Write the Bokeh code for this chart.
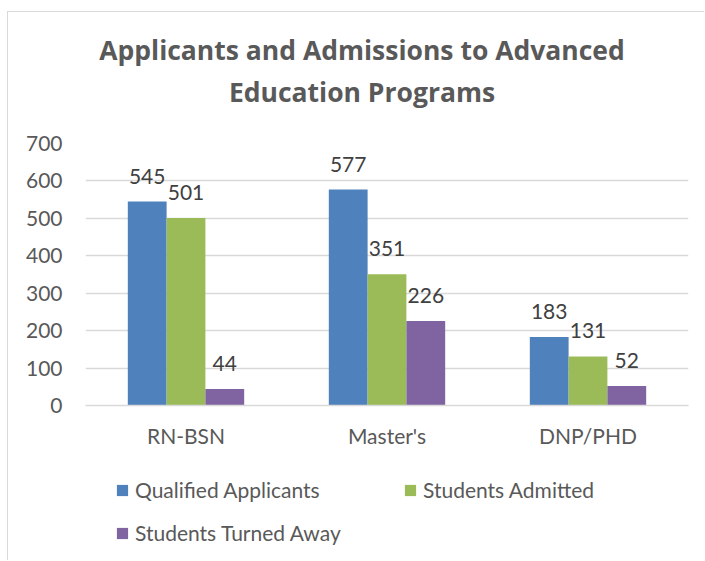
from bokeh.plotting import figure
from bokeh.layouts import column
from bokeh.models import (ColumnDataSource, FactorRange, Range1d, FixedTicker, Label,
                          LabelSet, Legend, LegendItem)
from bokeh.core.properties import value
from bokeh.transform import dodge
from bokeh.embed import file_html
from bokeh.resources import INLINE

# ---- data ----
categories = ["RN-BSN", "Master's", "DNP/PHD"]
series_names = ["Qualified Applicants", "Students Admitted", "Students Turned Away"]
qualified_applicants = [545, 577, 183]
students_admitted = [501, 351, 131]
students_turned_away = [44, 226, 52]
y_ticks = [0, 100, 200, 300, 400, 500, 600, 700]
title_lines = ["Applicants and Admissions to Advanced", "Education Programs"]

colors = ["#4F81BD", "#9BBB59", "#8064A2"]
FONT = "Lato"
TITLE_FONT = "Open Sans"
AXIS_COLOR = "#595959"

source = ColumnDataSource(data=dict(
    cat=categories,
    qa=qualified_applicants,
    sa=students_admitted,
    sta=students_turned_away,
    qa_txt=[str(v) for v in qualified_applicants],
    sa_txt=[str(v) for v in students_admitted],
    sta_txt=[str(v) for v in students_turned_away],
))

W = 696
H0, H1, H2 = 98, 355, 95


def blank(fig):
    fig.title = None
    fig.axis.visible = False
    fig.grid.visible = False
    fig.outline_line_color = None
    fig.background_fill_color = "white"
    fig.border_fill_color = "white"


# ---- title strip ----
p0 = figure(width=W, height=H0, output_backend="svg", toolbar_location=None,
            x_range=Range1d(0, 1), y_range=Range1d(0, 1),
            min_border_left=0, min_border_right=0, min_border_top=0, min_border_bottom=0)
blank(p0)
for txt, yy in zip(title_lines, [60.2, 18.8]):
    p0.add_layout(Label(x=276.5, y=yy, x_units="screen", y_units="screen", text=txt,
                        text_align="center", text_baseline="alphabetic",
                        text_font=TITLE_FONT, text_font_size="26.5px", text_font_style="bold",
                        text_color=AXIS_COLOR))

# ---- main chart ----
p = figure(width=W, height=H1, output_backend="svg", toolbar_location=None,
           x_range=FactorRange(*categories), y_range=Range1d(0, 700),
           min_border_left=77, min_border_right=16, min_border_top=33, min_border_bottom=60)
p.title = None
p.outline_line_color = None
p.background_fill_color = "white"
p.border_fill_color = "white"

bw = 0.193
offsets = [-bw, 0.0, bw]
fields = ["qa", "sa", "sta"]
for f, off, c in zip(fields, offsets, colors):
    p.vbar(x=dodge("cat", off, range=p.x_range), top=f, width=bw, source=source,
           fill_color=c, line_color=None)
    ls = LabelSet(x=dodge("cat", off, range=p.x_range), y=f, text=f + "_txt", source=source,
                  text_align="center", text_baseline="alphabetic", y_offset=18,
                  text_font=value(FONT), text_font_size=value("21px"), text_color=value("#404040"))
    p.add_layout(ls)

p.yaxis.ticker = FixedTicker(ticks=y_ticks)
p.yaxis.axis_line_color = None
p.yaxis.major_tick_line_color = None
p.yaxis.minor_tick_line_color = None
p.yaxis.major_label_standoff = 17
p.yaxis.major_label_text_font = FONT
p.yaxis.major_label_text_font_size = "21px"
p.yaxis.major_label_text_color = AXIS_COLOR

p.xaxis.axis_line_color = "#d9d9d9"
p.xaxis.axis_line_width = 1.5
p.xaxis.major_tick_line_color = None
p.xaxis.minor_tick_line_color = None
p.xaxis.major_label_standoff = 11
p.xaxis.major_label_text_font = FONT
p.xaxis.major_label_text_font_size = "21px"
p.xaxis.major_label_text_color = AXIS_COLOR

p.xgrid.grid_line_color = None
p.ygrid.grid_line_color = "#d9d9d9"
p.ygrid.grid_line_width = 1.5

# ---- legend strip (bars drawn from the data fall outside its visible range) ----
p2 = figure(width=W, height=H2, output_backend="svg", toolbar_location=None,
            x_range=FactorRange(*categories), y_range=Range1d(1000, 1001),
            min_border_left=0, min_border_right=0, min_border_top=0, min_border_bottom=0)
blank(p2)
legend_renderers = [p2.vbar(x="cat", top=f, width=bw, source=source, fill_color=c, line_color=None)
                    for f, c in zip(fields, colors)]
legend = Legend(items=[LegendItem(label=n, renderers=[r]) for n, r in zip(series_names, legend_renderers)],
                location=(30, 15), orientation="horizontal", ncols=2,
                glyph_width=14, glyph_height=14, label_standoff=6, label_width=250,
                label_height=24, spacing=18, padding=0, margin=0,
                border_line_color=None, background_fill_alpha=0,
                label_text_font=FONT, label_text_font_size="21px", label_text_color=AXIS_COLOR)
p2.add_layout(legend)

layout = column(p0, p, p2, spacing=0, margin=(11, 0, 0, 7),
                styles={"border-top": "1px solid #d9d9d9", "border-left": "1px solid #d9d9d9"})
open("out.html", "w").write(file_html(layout, INLINE))
